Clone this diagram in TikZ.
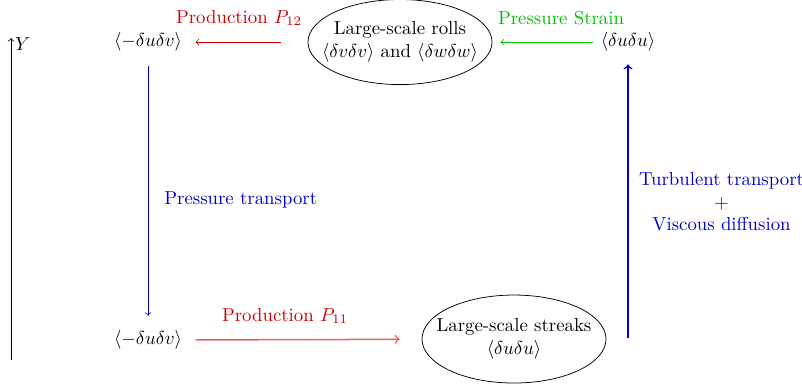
\documentclass[tikz,border=0pt]{standalone}
\usepackage{amsmath}
\usepackage{bm,amssymb}
\usetikzlibrary{calc,positioning,arrows,shapes.geometric}
\colorlet{prodcol}{red!80!black}
\colorlet{strcol}{green!75!black}
\colorlet{trcol}{blue!80!black}
\newcommand{\avg}[1]{\langle #1\rangle}

\begin{document}
\begin{tikzpicture}[auto]
\useasboundingbox (0,0) rectangle (14.993,7.254);
\tikzset{blob/.style={draw,ellipse,minimum width=3.44cm,minimum height=1.59cm}}
% axis
\coordinate (yb) at (0.206,0.523);
\coordinate (yt) at (0.206,6.543);
\draw[->] (yb) -- (yt) node[right,inner sep=2pt,yshift=-3pt] {$Y$};
% top row
\node[] (vvtop) at (2.767,6.468) {$\avg{-\delta u\delta v}$};
\node[blob] (rollsE) at (7.478,6.468) {};
\node[align=center] (rolls) at (rollsE) {Large-scale rolls\\$\avg{\delta v\delta v}$ and $\avg{\delta w\delta w}$};
\node[] (uutop) at (11.74,6.468) {$\avg{\delta u\delta u}$};
% bottom row
\node[] (uvbot) at (2.767,0.897) {$\avg{-\delta u\delta v}$};
\node[blob,minimum height=1.645cm] (streaksE) at (9.609,0.916) {};
\node[align=center] (streaks) at (streaksE) {Large-scale streaks\\$\avg{\delta u\delta u}$};
\coordinate (ttbase) at (11.74,0.935);
% transfers
\draw[->,prodcol,shorten <=14.4pt,shorten >=3.7pt] (rollsE) -- (vvtop);
\node[prodcol] (p12) at (4.468,6.917) {Production $P_{12}$};
\draw[->,strcol,shorten <=0.9pt,shorten >=4.3pt] (uutop) -- (rollsE);
\node[strcol] (ps) at (10.488,6.917) {Pressure Strain};
\draw[->,trcol,shorten <=4.4pt,shorten >=4.4pt] (vvtop) -- (uvbot);
\node[trcol,anchor=west] (pt) at (2.948,3.515) {Pressure transport};
\draw[->,prodcol!60,thick,shorten <=3.7pt,shorten >=11.7pt] (uvbot) -- (streaksE);
\node[prodcol] (p11) at (5.328,1.346) {Production $P_{11}$};
\draw[->,trcol,thick,shorten >=3.4pt] (ttbase) -- (uutop);
\node[trcol,align=center] (tt) at (13.489,3.477) {Turbulent transport\\$+$\\Viscous diffusion};
\end{tikzpicture}
\end{document}
